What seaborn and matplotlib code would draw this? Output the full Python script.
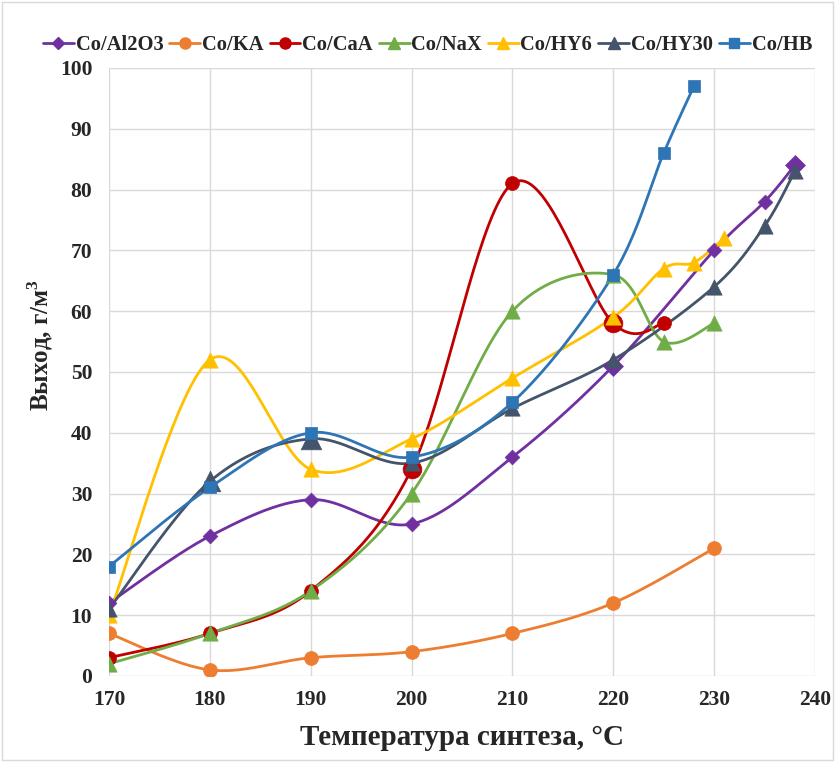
import numpy as np
import pandas as pd
import matplotlib
matplotlib.use("Agg")
import matplotlib.pyplot as plt
from matplotlib.lines import Line2D
import seaborn as sns

# ---- data ----
al_x = [170, 180, 190, 200, 210, 220, 230, 235, 238]
al_y = [12, 23, 29, 25, 36, 51, 70, 78, 84]
ka_x = [170, 180, 190, 200, 210, 220, 230]
ka_y = [7, 1, 3, 4, 7, 12, 21]
caa_x = [170, 180, 190, 200, 210, 220, 225]
caa_y = [3, 7, 14, 34, 81, 58, 58]
nax_x = [170, 180, 190, 200, 210, 220, 225, 230]
nax_y = [2, 7, 14, 30, 60, 66, 55, 58]
hy6_x = [170, 180, 190, 200, 210, 220, 225, 228, 231]
hy6_y = [10, 52, 34, 39, 49, 59, 67, 68, 72]
hy30_x = [170, 180, 190, 200, 210, 220, 230, 235, 238]
hy30_y = [11, 32, 39, 35, 44, 52, 64, 74, 83]
hb_x = [170, 180, 190, 200, 210, 220, 225, 228]
hb_y = [18, 31, 40, 36, 45, 66, 86, 97]

names = ["Co/Al2O3", "Co/KA", "Co/CaA", "Co/NaX", "Co/HY6", "Co/HY30", "Co/HB"]
series = [(al_x, al_y), (ka_x, ka_y), (caa_x, caa_y), (nax_x, nax_y),
          (hy6_x, hy6_y), (hy30_x, hy30_y), (hb_x, hb_y)]

# ---- style ----
colors = ["#7030A0", "#ED7D31", "#C00000", "#70AD47", "#FFC000", "#44546A", "#2E75B6"]
markers = ["D", "o", "o", "^", "^", "^", "s"]
msizes = [7.5, 10, 10, 11, 11, 11, 8.5]
# a few markers drawn larger in the original (series index -> point indices)
big_pts = {0: [5, 8], 2: [3, 5], 5: [1, 2]}


def smooth(xs, ys, n=40):
    """Excel-like smoothed line (Catmull-Rom Bezier) for drawing only."""
    P = np.column_stack([xs, ys]).astype(float)
    out = []
    m = len(P)
    for i in range(m - 1):
        p0 = P[i - 1] if i > 0 else P[i]
        p1 = P[i]
        p2 = P[i + 1]
        p3 = P[i + 2] if i + 2 < m else P[i + 1]
        b1 = p1 + (p2 - p0) / 6.0
        b2 = p2 - (p3 - p1) / 6.0
        t = np.linspace(0, 1, n)[:, None]
        seg = ((1 - t) ** 3) * p1 + 3 * ((1 - t) ** 2) * t * b1 + 3 * (1 - t) * t ** 2 * b2 + t ** 3 * p2
        out.append(seg if i == 0 else seg[1:])
    return np.vstack(out)


sns.set_theme(style="whitegrid")
plt.rcParams['font.family'] = ['Liberation Serif', 'DejaVu Serif']
plt.rcParams['font.weight'] = 'bold'
plt.rcParams['mathtext.fontset'] = 'custom'
plt.rcParams['mathtext.bf'] = 'Liberation Serif:bold'
plt.rcParams['mathtext.rm'] = 'Liberation Serif'

fig = plt.figure(figsize=(8.35, 7.62), dpi=100)
ax = fig.add_axes([0.1305, 0.1129, 0.8455, 0.7979])

for k, ((xs, ys), name, c, mk, ms) in enumerate(zip(series, names, colors, markers, msizes)):
    curve = smooth(xs, ys)
    df_c = pd.DataFrame({"x": curve[:, 0], "y": curve[:, 1]})
    sns.lineplot(data=df_c, x="x", y="y", sort=False, estimator=None, color=c,
                 linewidth=2.0, ax=ax, zorder=2)
    big = big_pts.get(k, [])
    df_p = pd.DataFrame({"x": xs, "y": ys})
    is_big = df_p.index.isin(big)
    sns.scatterplot(data=df_p[~is_big], x="x", y="y", marker=mk, color=c, s=ms ** 2,
                    edgecolor=c, linewidth=0.5, ax=ax, zorder=3, legend=False)
    if is_big.any():
        sns.scatterplot(data=df_p[is_big], x="x", y="y", marker=mk, color=c,
                        s=(ms * 1.35) ** 2, edgecolor=c, linewidth=0.5, ax=ax,
                        zorder=3, legend=False)

ax.set_xlim(170, 240)
ax.set_ylim(0, 100)
ax.set_xticks(np.arange(170, 241, 10))
ax.set_yticks(np.arange(0, 101, 10))
ax.grid(True, color="#D9D9D9", linewidth=1.0)
for s in ax.spines.values():
    s.set_visible(False)
ax.tick_params(axis="both", labelsize=15.5, length=0)
ax.tick_params(axis="y", pad=12)
ax.tick_params(axis="x", pad=10)
for lab in ax.get_xticklabels() + ax.get_yticklabels():
    lab.set_fontweight("bold")

ax.set_xlabel("Температура синтеза, °С", fontsize=21, fontweight="bold", labelpad=10)
ax.set_ylabel("Выход, г/м$^\\mathbf{3}$", fontsize=18, fontweight="bold")
ax.yaxis.set_label_coords(-0.077, 0.545)

handles = [Line2D([0], [0], color=c, marker=mk, markersize=ms * 0.8, linewidth=2,
                  markeredgecolor=c) for c, mk, ms in zip(colors, markers, msizes)]
fig.legend(handles, names, loc="center", bbox_to_anchor=(0.512, 0.941), ncol=7,
           frameon=False, handlelength=1.5, handletextpad=0.08, columnspacing=0.3,
           prop={"family": "Liberation Serif", "weight": "bold", "size": 14.8})

# light figure border
fig.patches.append(plt.Rectangle((0.002, 0.002), 0.996, 0.996, transform=fig.transFigure,
                                 fill=False, edgecolor="#D9D9D9", linewidth=1))

fig.savefig("out.png", dpi=100)
